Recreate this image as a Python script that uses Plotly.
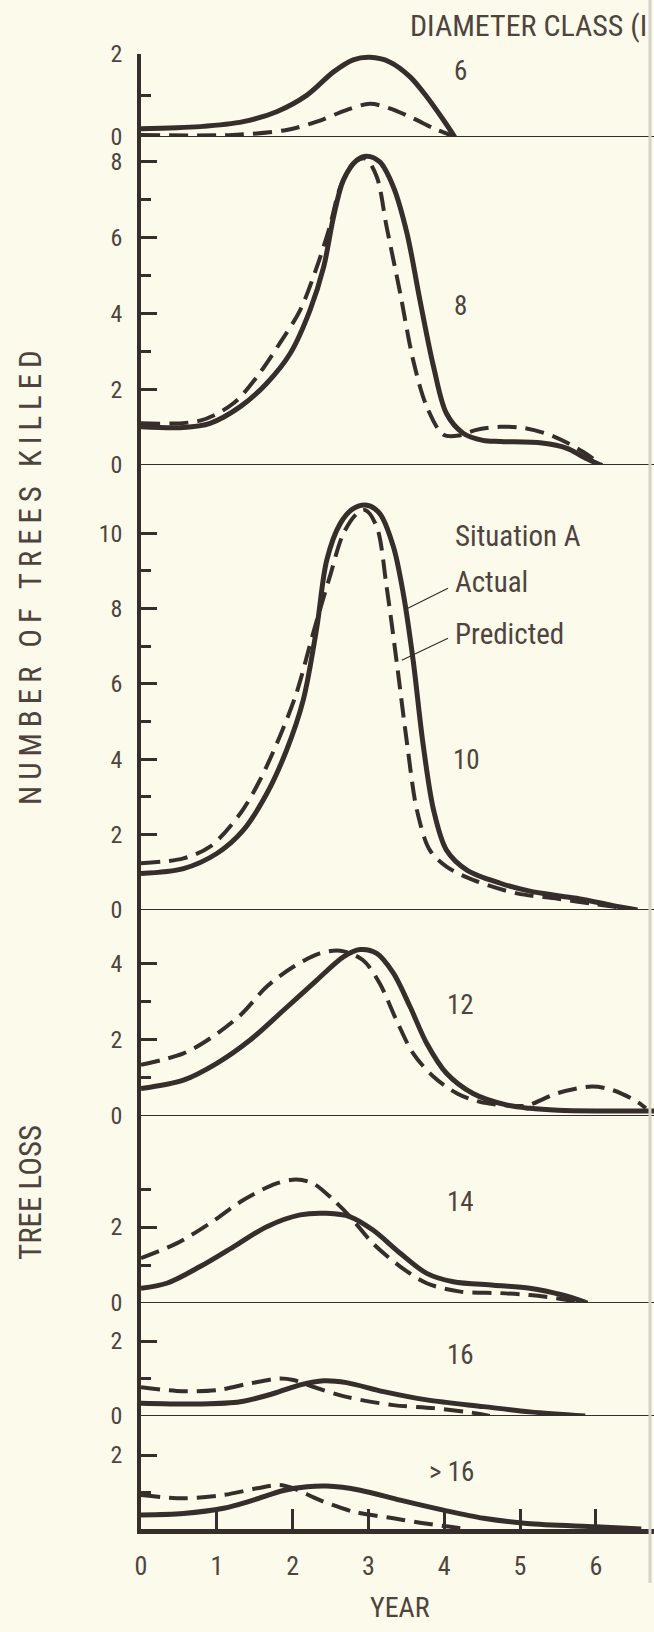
import plotly.graph_objects as go

W, H = 654, 1632
BG = "#fbfaeb"
INK = "#362e2a"
TXT = "#4f443d"
FONT = "Roboto Condensed, Liberation Sans Narrow, DejaVu Sans Condensed, Arial Narrow, sans-serif"

# ---- data: trees killed per year, by diameter class (inches) ----
year_ticks = [0, 1, 2, 3, 4, 5, 6]

d6_act_x = [0, 0.78, 1.35, 1.79, 2.19, 2.54, 2.80, 3.02, 3.28, 3.55, 3.77, 3.99, 4.14]
d6_act_y = [0.20, 0.25, 0.37, 0.61, 1.01, 1.57, 1.86, 1.92, 1.81, 1.45, 0.97, 0.41, 0.0]
d6_pre_x = [0, 1.21, 1.92, 2.32, 2.71, 3.02, 3.28, 3.59, 3.86, 4.08, 4.14]
d6_pre_y = [0.05, 0.05, 0.17, 0.37, 0.65, 0.80, 0.69, 0.45, 0.21, 0.05, 0.0]

d8_act_x = [0, 0.56, 0.91, 1.31, 1.66, 1.97, 2.23, 2.41, 2.54, 2.67, 2.85, 2.98, 3.15, 3.33,
            3.51, 3.68, 3.86, 4.03, 4.25, 4.51, 4.74, 5.29, 5.62, 5.83, 6.06]
d8_act_y = [1.01, 0.99, 1.10, 1.54, 2.16, 2.95, 4.09, 5.23, 6.55, 7.52, 8.05, 8.15, 8.00, 7.34,
            6.11, 4.35, 2.59, 1.36, 0.84, 0.65, 0.62, 0.58, 0.44, 0.22, 0.0]
d8_pre_x = [0, 0.78, 1.22, 1.53, 1.83, 2.10, 2.32, 2.49, 2.63, 2.80, 2.96, 3.11, 3.24, 3.42,
            3.59, 3.77, 3.99, 4.20, 4.41, 4.74, 5.07, 5.45, 5.83, 6.08]
d8_pre_y = [1.10, 1.17, 1.63, 2.33, 3.21, 4.09, 5.23, 6.29, 7.34, 7.96, 8.09, 7.61, 6.29, 4.53,
            2.77, 1.54, 0.80, 0.78, 0.92, 1.01, 0.97, 0.75, 0.35, 0.0]

d10_act_x = [0, 0.56, 1.0, 1.35, 1.66, 1.92, 2.14, 2.32, 2.45, 2.63, 2.80, 2.98, 3.15, 3.33,
             3.46, 3.59, 3.72, 3.86, 4.03, 4.30, 4.74, 5.13, 5.5, 5.83, 6.2, 6.55]
d10_act_y = [0.97, 1.10, 1.50, 2.12, 3.09, 4.24, 5.57, 7.51, 9.28, 10.26, 10.65, 10.74, 10.52, 9.64,
             8.40, 6.63, 4.42, 2.65, 1.59, 1.06, 0.71, 0.50, 0.38, 0.28, 0.13, 0.0]
d10_pre_x = [0, 0.56, 0.91, 1.31, 1.57, 1.83, 2.05, 2.27, 2.49, 2.67, 2.85, 2.96, 3.11, 3.24,
             3.37, 3.51, 3.64, 3.81, 4.03, 4.38, 4.96, 5.5, 6.0, 6.5]
d10_pre_y = [1.24, 1.37, 1.68, 2.56, 3.45, 4.60, 5.75, 7.34, 8.84, 9.99, 10.52, 10.61, 10.17, 8.58,
             6.63, 4.42, 2.65, 1.59, 1.15, 0.80, 0.44, 0.30, 0.15, 0.02]

d12_act_x = [0, 0.56, 1.0, 1.44, 1.88, 2.32, 2.67, 2.89, 3.11, 3.33, 3.55, 3.77, 4.03, 4.38,
             4.82, 5.13, 5.5, 6.0, 6.77]
d12_act_y = [0.72, 0.94, 1.38, 1.99, 2.77, 3.56, 4.17, 4.36, 4.26, 3.74, 2.86, 1.90, 1.12, 0.59,
             0.29, 0.20, 0.15, 0.13, 0.13]
d12_pre_x = [0, 0.56, 0.91, 1.31, 1.66, 2.01, 2.36, 2.63, 2.93, 3.15, 3.37, 3.59, 3.86, 4.17,
             4.47, 4.96, 5.12, 5.5, 5.95, 6.22, 6.55, 6.66]
d12_pre_y = [1.34, 1.64, 2.03, 2.64, 3.39, 3.91, 4.26, 4.33, 4.08, 3.47, 2.51, 1.64, 1.03, 0.59,
             0.37, 0.26, 0.29, 0.60, 0.77, 0.68, 0.37, 0.20]

d14_act_x = [0, 0.34, 0.78, 1.22, 1.66, 2.10, 2.45, 2.76, 3.06, 3.42, 3.77, 4.12, 4.65, 5.13, 5.56, 5.89]
d14_act_y = [0.39, 0.52, 0.96, 1.48, 2.01, 2.32, 2.36, 2.27, 1.92, 1.31, 0.78, 0.56, 0.47, 0.39, 0.21, 0.0]
d14_pre_x = [0, 0.47, 0.91, 1.35, 1.79, 2.05, 2.27, 2.54, 2.76, 3.06, 3.42, 3.77, 4.21, 4.74, 5.13, 5.5, 5.85]
d14_pre_y = [1.18, 1.57, 2.10, 2.71, 3.15, 3.25, 3.15, 2.71, 2.27, 1.57, 0.96, 0.52, 0.30, 0.26, 0.21, 0.12, 0.0]

d16_act_x = [0, 0.78, 1.31, 1.75, 2.10, 2.41, 2.71, 3.20, 3.77, 4.52, 5.13, 5.86]
d16_act_y = [0.34, 0.32, 0.38, 0.60, 0.83, 0.94, 0.89, 0.65, 0.43, 0.25, 0.11, 0.0]
d16_pre_x = [0, 0.47, 1.0, 1.44, 1.83, 2.01, 2.27, 2.71, 3.33, 3.86, 4.43, 4.6]
d16_pre_y = [0.77, 0.67, 0.69, 0.87, 1.00, 0.96, 0.78, 0.51, 0.29, 0.21, 0.07, 0.0]

dgt16_act_x = [0, 0.56, 1.09, 1.48, 1.88, 2.19, 2.45, 2.89, 3.42, 3.99, 4.52, 5.09, 6.0, 6.6]
dgt16_act_y = [0.38, 0.42, 0.56, 0.78, 1.04, 1.14, 1.16, 1.05, 0.78, 0.51, 0.29, 0.15, 0.06, 0.0]
dgt16_pre_x = [0, 0.56, 1.09, 1.53, 1.83, 2.01, 2.36, 2.80, 3.33, 3.68, 4.08, 4.3]
dgt16_pre_y = [0.92, 0.83, 0.92, 1.10, 1.19, 1.10, 0.78, 0.47, 0.29, 0.17, 0.06, 0.0]

class_labels = ["6", "8", "10", "12", "14", "16", "> 16"]
major_ticks = [[0, 2], [0, 2, 4, 6, 8], [0, 2, 4, 6, 8, 10], [0, 2, 4], [0, 2], [0, 2], [2]]
minor_ticks = [[1], [1, 3, 5, 7], [1, 3, 5, 7, 9], [1, 3], [1, 3], [1], [1]]

series = [
    (d6_act_x, d6_act_y, d6_pre_x, d6_pre_y),
    (d8_act_x, d8_act_y, d8_pre_x, d8_pre_y),
    (d10_act_x, d10_act_y, d10_pre_x, d10_pre_y),
    (d12_act_x, d12_act_y, d12_pre_x, d12_pre_y),
    (d14_act_x, d14_act_y, d14_pre_x, d14_pre_y),
    (d16_act_x, d16_act_y, d16_pre_x, d16_pre_y),
    (dgt16_act_x, dgt16_act_y, dgt16_pre_x, dgt16_pre_y),
]

# ---- page geometry (pixels from top-left) ----
AXIS_X = 141          # left edge of the plotting strip
YEAR_PX = 75.8        # pixels per year
X_MAX = (W - AXIS_X) / YEAR_PX
panel_top = [54, 137, 465, 910, 1116, 1303, 1416]
panel_zero = [137, 465, 910, 1116, 1303, 1416, 1529]
px_per_unit = [41.5, 37.9, 37.7, 38.2, 38.0, 37.5, 37.0]
label_pos = [(460, 71), (460, 306), (466, 760), (460, 1005), (460, 1202), (460, 1355), (451, 1472)]


def py(p):
    return 1 - p / H


def text(txt, x, y, size, **kw):
    d = dict(text=txt, x=x / W, y=py(y), xref="paper", yref="paper", showarrow=False,
             xanchor="center", yanchor="middle", font=dict(size=size, family=FONT, color=TXT))
    d.update(kw)
    return d


def spaced(s):
    # open letter spacing used for the long vertical title
    return "\u2009".join(s)


fig = go.Figure()
layout = dict(
    width=W, height=H,
    margin=dict(l=0, r=0, t=0, b=0, pad=0),
    paper_bgcolor=BG, plot_bgcolor="rgba(0,0,0,0)",
    showlegend=False,
    font=dict(family=FONT, color=TXT),
    xaxis=dict(
        domain=[AXIS_X / W, 1], range=[0, X_MAX], anchor="y7", automargin=False,
        showline=True, linecolor=INK, linewidth=4.5,
        ticks="inside", ticklen=20, tickwidth=2.5, tickcolor=INK,
        tickvals=year_ticks, tickfont=dict(size=26, color=TXT, family=FONT),
        ticklabelstandoff=10, showgrid=False, zeroline=False,
    ),
)

shapes = []
for i in range(7):
    name = "yaxis" if i == 0 else f"yaxis{i + 1}"
    yref = "y" if i == 0 else f"y{i + 1}"
    top = (panel_zero[i] - panel_top[i]) / px_per_unit[i]
    layout[name] = dict(
        domain=[py(panel_zero[i]), py(panel_top[i])], range=[0, top * 1.0005], anchor="x",
        automargin=False,
        showline=True, linecolor=INK, linewidth=3.5,
        ticks="inside", ticklen=16, tickwidth=2.5, tickcolor=INK,
        tickvals=major_ticks[i], tickfont=dict(size=24, color=TXT, family=FONT),
        minor=dict(tickvals=minor_ticks[i], ticks="inside", ticklen=10, tickwidth=2.5, tickcolor=INK),
        ticklabelstandoff=10, showgrid=False, zeroline=False,
    )
    ax, ay, px_, py_ = series[i]
    fig.add_trace(go.Scatter(x=ax, y=ay, mode="lines", xaxis="x", yaxis=yref,
                             line=dict(color=INK, width=5, shape="spline", smoothing=0.9)))
    fig.add_trace(go.Scatter(x=px_, y=py_, mode="lines", xaxis="x", yaxis=yref,
                             line=dict(color=INK, width=4, shape="spline", smoothing=0.9,
                                       dash="19px,9px")))
    if i < 6:
        shapes.append(dict(type="line", xref="x", yref=yref, x0=0, x1=X_MAX, y0=0, y1=0,
                           line=dict(color=INK, width=2), layer="below"))

# leader lines for the series key in the 10-inch panel
shapes.append(dict(type="line", xref="x", yref="y3", x0=3.52, y0=8.01, x1=4.05, y1=8.54,
                   line=dict(color=INK, width=1.2)))
shapes.append(dict(type="line", xref="x", yref="y3", x0=3.44, y0=6.63, x1=4.05, y1=7.21,
                   line=dict(color=INK, width=1.2)))
# page edge at the right
shapes.append(dict(type="line", xref="paper", yref="paper", x0=650 / W, x1=650 / W, y0=0.03, y1=1,
                   line=dict(color="#d4d2c6", width=3)))

ann = []
for lab, (lx, ly) in zip(class_labels, label_pos):
    ann.append(text(lab, lx, ly, 27))
ann.append(text("DIAMETER CLASS (I", 408, 26, 30, xanchor="left"))
for txt, ty in [("Situation A", 536), ("Actual", 582), ("Predicted", 634)]:
    ann.append(text(txt, 453, ty, 29, xanchor="left"))
ann.append(text(spaced("NUMBER OF TREES KILLED"), 30, 578, 31, textangle=-90))
ann.append(text("TREE LOSS", 30, 1193, 31, textangle=-90))
ann.append(text("YEAR", 400, 1607, 28))

layout["shapes"] = shapes
layout["annotations"] = ann
fig.update_layout(**layout)
fig.write_html("out.html")
